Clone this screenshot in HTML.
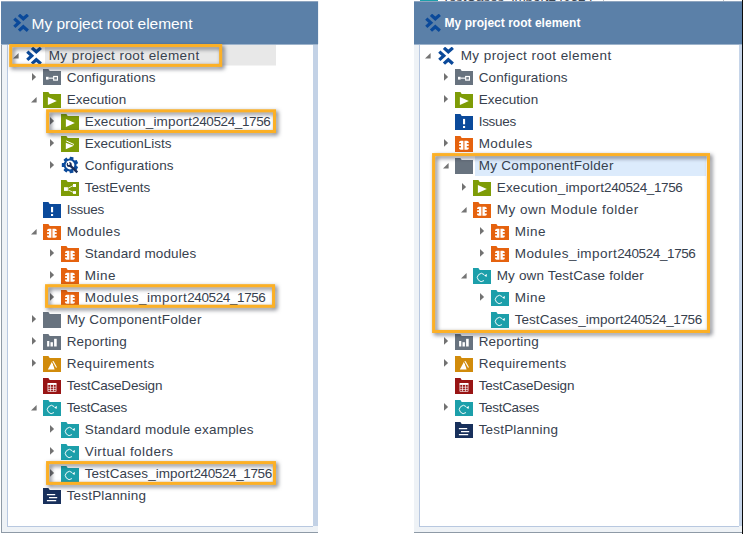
<!DOCTYPE html>
<html><head><meta charset="utf-8"><title>Project tree</title>
<style>
html,body{margin:0;padding:0;background:#fff;}
body{width:743px;height:534px;overflow:hidden;position:relative;font-family:"Liberation Sans",sans-serif;}
.abs{position:absolute}
.row{position:absolute;height:22px;width:300px;}
.row .ic{position:absolute;top:4px;}
.row .ic.root{top:2.6px}
.row .ic.cf{top:3.1px}
.row .ar{position:absolute;}
.tx{position:absolute;top:1px;height:22px;line-height:22px;font-size:13.5px;color:#37414e;white-space:nowrap;}
.hdr{position:absolute;background:#5b80a8;color:#fff;white-space:nowrap;}
.boxes{position:absolute;left:0;top:0;filter:drop-shadow(2.6px 2.6px 1.9px rgba(20,25,40,.62));}
</style></head><body>

<!-- LEFT PANEL -->
<div class="abs" style="left:1px;top:1px;width:318px;height:532px;background:#eef2f6;border-left:1px solid #8e9aa6;border-bottom:1px solid #8e9aa6;box-sizing:border-box"></div>
<div class="abs" style="left:7px;top:44px;width:306px;height:483px;background:#fff;border-left:1px solid #b8c8e0;border-bottom:1px solid #b8c8e0;box-sizing:border-box"></div>
<div class="abs" style="left:313px;top:44px;width:5px;height:482px;background:#c3d2e6"></div>
<div class="abs" style="left:318px;top:44px;width:2px;height:490px;background:#fff"></div>
<div class="hdr" style="left:1px;top:1px;width:317px;height:44px;border-top:1px solid #8fa5bf;border-bottom:1px solid #9db3cb;box-sizing:border-box">
 <svg class="abs" style="left:12.1px;top:12.2px" width="17" height="18" viewBox="0 0 17 18"><g fill="none" stroke="#0a499a" stroke-width="3.25" stroke-linejoin="miter"><path d="M5.95 0.85L10.3 4.8L14.85 0.85"/><path d="M1.3 4.6L5.8 8.75L1.3 12.9"/><path d="M5.95 16.65L10.3 12.7L14.85 16.65"/></g></svg>
 <span class="abs" style="left:30.6px;top:10.5px;font-size:15.5px;line-height:22px;letter-spacing:-0.05px">My project root element</span>
</div>
<div class="abs" style="left:45px;top:45px;width:230.5px;height:20px;background:#e8e8e8;border-bottom:1px solid #f3f3f3"></div>
<div class="row" style="top:44px;left:0px"><svg class="ar" width="6" height="6" viewBox="0 0 6 6" style="left:13.4px;top:8.7px"><path d="M5.6 0V5.5H0Z" fill="#747474"/></svg><svg style="left:26px" class="ic root" width="17" height="18" viewBox="0 0 17 18"><g fill="none" stroke="#0a499a" stroke-width="3.25" stroke-linejoin="miter"><path d="M5.95 0.85L10.3 4.8L14.85 0.85"/><path d="M1.3 4.6L5.8 8.75L1.3 12.9"/><path d="M5.95 16.65L10.3 12.7L14.85 16.65"/></g></svg><span class="tx" style="left:48.7px;letter-spacing:0.432px">My project root element</span></div>
<div class="row" style="top:66px;left:0px"><svg class="ar" width="5" height="8" viewBox="0 0 5 8" style="left:32px;top:7.2px"><path d="M0 0L4.1 3.9L0 7.8Z" fill="#727272"/></svg><svg style="left:43px" class="ic cf" width="18" height="16" viewBox="0 0 18 16"><path d="M0 0H5.4L6.7 2H18V16H0Z" fill="#68737f"/><rect x="3" y="7.8" width="2.6" height="2.8" fill="#fff"/><rect x="5.5" y="8.6" width="5" height="1.1" fill="#fff"/><rect x="10.7" y="7.5" width="3.7" height="3.6" fill="none" stroke="#fff" stroke-width="1.2"/><rect x="12.35" y="7.5" width="0.4" height="3.6" fill="#fff" fill-opacity=".3"/></svg><span class="tx" style="left:66.7px;letter-spacing:0.138px">Configurations</span></div>
<div class="row" style="top:88px;left:0px"><svg class="ar" width="6" height="6" viewBox="0 0 6 6" style="left:31.4px;top:8.7px"><path d="M5.6 0V5.5H0Z" fill="#747474"/></svg><svg style="left:43px" class="ic" width="18" height="16" viewBox="0 0 18 16"><path d="M0 0H5.4L6.7 2H18V16H0Z" fill="#7e9c07"/><path d="M4.9 5V13.1L13.8 9.1Z" fill="#fff"/></svg><span class="tx" style="left:66.7px;letter-spacing:0.023px">Execution</span></div>
<div class="row" style="top:110px;left:0px"><svg class="ar" width="5" height="8" viewBox="0 0 5 8" style="left:50px;top:7.2px"><path d="M0 0L4.1 3.9L0 7.8Z" fill="#727272"/></svg><svg style="left:61px" class="ic" width="18" height="16" viewBox="0 0 18 16"><path d="M0 0H5.4L6.7 2H18V16H0Z" fill="#7e9c07"/><path d="M4.9 5V13.1L13.8 9.1Z" fill="#fff"/></svg><span class="tx" style="left:84.7px;letter-spacing:0.193px">Execution_import<span style="letter-spacing:-0.390px">240524_1756</span></span></div>
<div class="row" style="top:132px;left:0px"><svg class="ar" width="5" height="8" viewBox="0 0 5 8" style="left:50px;top:7.2px"><path d="M0 0L4.1 3.9L0 7.8Z" fill="#727272"/></svg><svg style="left:61px" class="ic" width="18" height="16" viewBox="0 0 18 16"><path d="M0 0H5.4L6.7 2H18V16H0Z" fill="#7e9c07"/><path d="M4.8 6.8V13.2L12.8 9.8Z" fill="#fff"/><path d="M5.2 4.9L13 8.5" stroke="#fff" stroke-width="1" fill="none"/></svg><span class="tx" style="left:84.7px;letter-spacing:-0.018px">ExecutionLists</span></div>
<div class="row" style="top:154px;left:0px"><svg class="ar" width="5" height="8" viewBox="0 0 5 8" style="left:50px;top:7.2px"><path d="M0 0L4.1 3.9L0 7.8Z" fill="#727272"/></svg><svg class="ic" width="18" height="18" viewBox="-9 -9 18 18" style="left:61px;margin-top:-2.2px"><g fill="#0b4a9b"><circle r="6.5"/><rect x="-1.9" y="-8.2" width="3.8" height="3.4" rx="0.5" transform="rotate(13.0)"/><rect x="-1.9" y="-8.2" width="3.8" height="3.4" rx="0.5" transform="rotate(64.4)"/><rect x="-1.9" y="-8.2" width="3.8" height="3.4" rx="0.5" transform="rotate(115.9)"/><rect x="-1.9" y="-8.2" width="3.8" height="3.4" rx="0.5" transform="rotate(167.3)"/><rect x="-1.9" y="-8.2" width="3.8" height="3.4" rx="0.5" transform="rotate(218.7)"/><rect x="-1.9" y="-8.2" width="3.8" height="3.4" rx="0.5" transform="rotate(270.1)"/><rect x="-1.9" y="-8.2" width="3.8" height="3.4" rx="0.5" transform="rotate(321.6)"/></g><circle r="4.4" fill="#fff"/><path d="M0 0.4L7.3 7.4" stroke="#1a2d5a" stroke-width="2.4" stroke-linecap="butt"/><circle cx="-0.8" cy="-0.5" r="2.5" fill="#1a2d5a"/><path d="M-0.9 -0.7L-3.6 -3.2L-0.6 -4.2Z" fill="#fff"/><circle cx="-1.2" cy="-1.1" r="1" fill="#fff"/></svg><span class="tx" style="left:84.7px;letter-spacing:0.138px">Configurations</span></div>
<div class="row" style="top:176px;left:0px"><svg style="left:61px" class="ic" width="18" height="16" viewBox="0 0 18 16"><path d="M0 0H5.4L6.7 2H18V16H0Z" fill="#7e9c07"/><rect x="3" y="7.2" width="3.9" height="3.7" fill="#fff"/><rect x="12" y="4" width="3" height="3" fill="#fff"/><rect x="12" y="11.1" width="3" height="2.8" fill="#fff"/><path d="M6.9 8.4L12.2 5.6M6.9 9.8L12.2 12.4" stroke="#fff" stroke-opacity=".85" stroke-width="0.9" fill="none"/></svg><span class="tx" style="left:84.7px;letter-spacing:-0.043px">TestEvents</span></div>
<div class="row" style="top:198px;left:0px"><svg style="left:43px" class="ic" width="18" height="16" viewBox="0 0 18 16"><path d="M0 0H5.4L6.7 2H18V16H0Z" fill="#0b4a9b"/><rect x="8" y="4.9" width="2.1" height="5.4" fill="#fff"/><rect x="8" y="12" width="2.1" height="2" fill="#fff"/></svg><span class="tx" style="left:66.7px;letter-spacing:-0.289px">Issues</span></div>
<div class="row" style="top:220px;left:0px"><svg class="ar" width="6" height="6" viewBox="0 0 6 6" style="left:31.4px;top:8.7px"><path d="M5.6 0V5.5H0Z" fill="#747474"/></svg><svg style="left:43px" class="ic" width="18" height="16" viewBox="0 0 18 16"><path d="M0 0H5.4L6.7 2H18V16H0Z" fill="#e5620e"/><path d="M8.2 4.8V13.8H5.6L4.1 12.9V11.4H6V10.1H4.1V8.3H6V7H4.1V5.7L5.6 4.8Z" fill="#fff"/><path d="M9.5 4.8V13.8H12.2L13.7 12.9V11.4H11.8V10.1H13.7V8.3H11.8V7H13.7V5.7L12.2 4.8Z" fill="#fff"/><rect x="8.2" y="4.8" width="1.3" height="9" fill="#fff" fill-opacity=".3"/></svg><span class="tx" style="left:66.7px;letter-spacing:0.424px">Modules</span></div>
<div class="row" style="top:242px;left:0px"><svg class="ar" width="5" height="8" viewBox="0 0 5 8" style="left:50px;top:7.2px"><path d="M0 0L4.1 3.9L0 7.8Z" fill="#727272"/></svg><svg style="left:61px" class="ic" width="18" height="16" viewBox="0 0 18 16"><path d="M0 0H5.4L6.7 2H18V16H0Z" fill="#e5620e"/><path d="M8.2 4.8V13.8H5.6L4.1 12.9V11.4H6V10.1H4.1V8.3H6V7H4.1V5.7L5.6 4.8Z" fill="#fff"/><path d="M9.5 4.8V13.8H12.2L13.7 12.9V11.4H11.8V10.1H13.7V8.3H11.8V7H13.7V5.7L12.2 4.8Z" fill="#fff"/><rect x="8.2" y="4.8" width="1.3" height="9" fill="#fff" fill-opacity=".3"/></svg><span class="tx" style="left:84.7px;letter-spacing:0.133px">Standard modules</span></div>
<div class="row" style="top:264px;left:0px"><svg class="ar" width="5" height="8" viewBox="0 0 5 8" style="left:50px;top:7.2px"><path d="M0 0L4.1 3.9L0 7.8Z" fill="#727272"/></svg><svg style="left:61px" class="ic" width="18" height="16" viewBox="0 0 18 16"><path d="M0 0H5.4L6.7 2H18V16H0Z" fill="#e5620e"/><path d="M8.2 4.8V13.8H5.6L4.1 12.9V11.4H6V10.1H4.1V8.3H6V7H4.1V5.7L5.6 4.8Z" fill="#fff"/><path d="M9.5 4.8V13.8H12.2L13.7 12.9V11.4H11.8V10.1H13.7V8.3H11.8V7H13.7V5.7L12.2 4.8Z" fill="#fff"/><rect x="8.2" y="4.8" width="1.3" height="9" fill="#fff" fill-opacity=".3"/></svg><span class="tx" style="left:84.7px;letter-spacing:0.509px">Mine</span></div>
<div class="row" style="top:286px;left:0px"><svg class="ar" width="5" height="8" viewBox="0 0 5 8" style="left:50px;top:7.2px"><path d="M0 0L4.1 3.9L0 7.8Z" fill="#727272"/></svg><svg style="left:61px" class="ic" width="18" height="16" viewBox="0 0 18 16"><path d="M0 0H5.4L6.7 2H18V16H0Z" fill="#e5620e"/><path d="M8.2 4.8V13.8H5.6L4.1 12.9V11.4H6V10.1H4.1V8.3H6V7H4.1V5.7L5.6 4.8Z" fill="#fff"/><path d="M9.5 4.8V13.8H12.2L13.7 12.9V11.4H11.8V10.1H13.7V8.3H11.8V7H13.7V5.7L12.2 4.8Z" fill="#fff"/><rect x="8.2" y="4.8" width="1.3" height="9" fill="#fff" fill-opacity=".3"/></svg><span class="tx" style="left:84.7px;letter-spacing:0.461px">Modules_import<span style="letter-spacing:-0.390px">240524_1756</span></span></div>
<div class="row" style="top:308px;left:0px"><svg class="ar" width="5" height="8" viewBox="0 0 5 8" style="left:32px;top:7.2px"><path d="M0 0L4.1 3.9L0 7.8Z" fill="#727272"/></svg><svg style="left:43px" class="ic" width="18" height="16" viewBox="0 0 18 16"><path d="M0 0H5.4L6.7 2H18V16H0Z" fill="#68737f"/></svg><span class="tx" style="left:66.7px;letter-spacing:0.288px">My ComponentFolder</span></div>
<div class="row" style="top:330px;left:0px"><svg class="ar" width="5" height="8" viewBox="0 0 5 8" style="left:32px;top:7.2px"><path d="M0 0L4.1 3.9L0 7.8Z" fill="#727272"/></svg><svg style="left:43px" class="ic" width="18" height="16" viewBox="0 0 18 16"><path d="M0 0H5.4L6.7 2H18V16H0Z" fill="#68737f"/><rect x="4.1" y="7" width="2.2" height="5.5" fill="#fff"/><rect x="7.5" y="8.2" width="2.4" height="4.3" fill="#fff"/><rect x="11.1" y="4.8" width="2.6" height="7.7" fill="#fff"/></svg><span class="tx" style="left:66.7px;letter-spacing:0.184px">Reporting</span></div>
<div class="row" style="top:352px;left:0px"><svg class="ar" width="5" height="8" viewBox="0 0 5 8" style="left:32px;top:7.2px"><path d="M0 0L4.1 3.9L0 7.8Z" fill="#727272"/></svg><svg style="left:43px" class="ic" width="18" height="16" viewBox="0 0 18 16"><path d="M0 0H5.4L6.7 2H18V16H0Z" fill="#d18b0b"/><path d="M4.8 13.4L9.3 5.3L11.6 13.4Z" fill="#fff"/><path d="M9.2 5.6L12.4 12.6" stroke="#d18b0b" stroke-width="1"/><path d="M10 5.2L13.5 11.6" stroke="#fff" stroke-width="1.1"/></svg><span class="tx" style="left:66.7px;letter-spacing:0.313px">Requirements</span></div>
<div class="row" style="top:374px;left:0px"><svg style="left:43px" class="ic" width="18" height="16" viewBox="0 0 18 16"><path d="M0 0H5.4L6.7 2H18V16H0Z" fill="#981414"/><rect x="4.5" y="5" width="9" height="1.9" fill="#fff"/><path d="M4.9 6.5V13.4H13.1V6.5M7.5 6.8V13.4M10.5 6.8V13.4M4.9 9.2H13.1M4.9 11.4H13.1" stroke="#fff" stroke-opacity=".85" stroke-width="0.8" fill="none"/></svg><span class="tx" style="left:66.7px;letter-spacing:-0.200px">TestCaseDesign</span></div>
<div class="row" style="top:396px;left:0px"><svg class="ar" width="6" height="6" viewBox="0 0 6 6" style="left:31.4px;top:8.7px"><path d="M5.6 0V5.5H0Z" fill="#747474"/></svg><svg style="left:43px" class="ic" width="18" height="16" viewBox="0 0 18 16"><path d="M0 0H5.4L6.7 2H18V16H0Z" fill="#1c9faa"/><path d="M11.23 6.67A4 4 0 1 0 10.97 12.56" stroke="#fff" stroke-opacity=".92" stroke-width="1" fill="none"/><path d="M11.1 7.4L14 5.9L13.5 9Z" fill="#fff"/></svg><span class="tx" style="left:66.7px;letter-spacing:-0.315px">TestCases</span></div>
<div class="row" style="top:418px;left:0px"><svg class="ar" width="5" height="8" viewBox="0 0 5 8" style="left:50px;top:7.2px"><path d="M0 0L4.1 3.9L0 7.8Z" fill="#727272"/></svg><svg style="left:61px" class="ic" width="18" height="16" viewBox="0 0 18 16"><path d="M0 0H5.4L6.7 2H18V16H0Z" fill="#1c9faa"/><path d="M11.23 6.67A4 4 0 1 0 10.97 12.56" stroke="#fff" stroke-opacity=".92" stroke-width="1" fill="none"/><path d="M11.1 7.4L14 5.9L13.5 9Z" fill="#fff"/></svg><span class="tx" style="left:84.7px;letter-spacing:0.193px">Standard module examples</span></div>
<div class="row" style="top:440px;left:0px"><svg class="ar" width="5" height="8" viewBox="0 0 5 8" style="left:50px;top:7.2px"><path d="M0 0L4.1 3.9L0 7.8Z" fill="#727272"/></svg><svg style="left:61px" class="ic" width="18" height="16" viewBox="0 0 18 16"><path d="M0 0H5.4L6.7 2H18V16H0Z" fill="#1c9faa"/><path d="M11.23 6.67A4 4 0 1 0 10.97 12.56" stroke="#fff" stroke-opacity=".92" stroke-width="1" fill="none"/><path d="M11.1 7.4L14 5.9L13.5 9Z" fill="#fff"/></svg><span class="tx" style="left:84.7px;letter-spacing:0.434px">Virtual folders</span></div>
<div class="row" style="top:462px;left:0px"><svg class="ar" width="5" height="8" viewBox="0 0 5 8" style="left:50px;top:7.2px"><path d="M0 0L4.1 3.9L0 7.8Z" fill="#727272"/></svg><svg style="left:61px" class="ic" width="18" height="16" viewBox="0 0 18 16"><path d="M0 0H5.4L6.7 2H18V16H0Z" fill="#1c9faa"/><path d="M11.23 6.67A4 4 0 1 0 10.97 12.56" stroke="#fff" stroke-opacity=".92" stroke-width="1" fill="none"/><path d="M11.1 7.4L14 5.9L13.5 9Z" fill="#fff"/></svg><span class="tx" style="left:84.7px;letter-spacing:0.047px">TestCases_import<span style="letter-spacing:-0.390px">240524_1756</span></span></div>
<div class="row" style="top:484px;left:0px"><svg style="left:43px" class="ic" width="18" height="16" viewBox="0 0 18 16"><path d="M0 0H5.4L6.7 2H18V16H0Z" fill="#18305c"/><path d="M3.9 6.55H12.2M6 9.55H14.2M3.9 12.6H13.2" stroke="#fff" stroke-width="1.2" fill="none"/></svg><span class="tx" style="left:66.7px;letter-spacing:0.174px">TestPlanning</span></div>

<!-- RIGHT PANEL -->
<div class="abs" style="left:414px;top:1px;width:329px;height:532px;background:#eef2f6;border-bottom:1px solid #8e9aa6;box-sizing:border-box"></div>
<div class="abs" style="left:419px;top:44px;width:320px;height:483px;background:#fff;border-left:1px solid #b8c8e0;border-bottom:1px solid #b8c8e0;box-sizing:border-box"></div>
<div class="abs" style="left:739px;top:44px;width:3px;height:482px;background:#c6d5e9"></div>
<div class="abs" style="left:414px;top:0;width:329px;height:1px;background:#fff;overflow:hidden">
  <div class="abs" style="left:6px;top:-14px;width:18px;height:16px;background:#1c9faa"></div>
  <span class="abs" style="left:28px;top:-10.3px;font-size:13.5px;line-height:14px;color:#3c4653;white-space:nowrap;letter-spacing:-0.1px">TestCases_import240524</span>
  <div class="abs" style="left:189px;top:0;width:1px;height:2px;background:#b9bec5"></div>
  <div class="abs" style="left:309px;top:0;width:1px;height:2px;background:#b9bec5"></div>
</div>
<div class="hdr" style="left:414px;top:1px;width:329px;height:44px;border-top:1px solid #8fa5bf;border-bottom:1px solid #9db3cb;box-sizing:border-box">
 <svg class="abs" style="left:11.2px;top:11.9px" width="17" height="18" viewBox="0 0 17 18"><g fill="none" stroke="#0a499a" stroke-width="3.25" stroke-linejoin="miter"><path d="M5.95 0.85L10.3 4.8L14.85 0.85"/><path d="M1.3 4.6L5.8 8.75L1.3 12.9"/><path d="M5.95 16.65L10.3 12.7L14.85 16.65"/></g></svg>
 <span class="abs" style="left:30.6px;top:9.6px;font-size:12px;font-weight:bold;line-height:22px;letter-spacing:0.02px">My project root element</span>
</div>
<div class="abs" style="left:475px;top:155px;width:231px;height:20.6px;background:#dcebfc"></div>
<div class="row" style="top:44px;left:412px"><svg class="ar" width="6" height="6" viewBox="0 0 6 6" style="left:13.4px;top:8.7px"><path d="M5.6 0V5.5H0Z" fill="#747474"/></svg><svg style="left:26px" class="ic root" width="17" height="18" viewBox="0 0 17 18"><g fill="none" stroke="#0a499a" stroke-width="3.25" stroke-linejoin="miter"><path d="M5.95 0.85L10.3 4.8L14.85 0.85"/><path d="M1.3 4.6L5.8 8.75L1.3 12.9"/><path d="M5.95 16.65L10.3 12.7L14.85 16.65"/></g></svg><span class="tx" style="left:48.7px;letter-spacing:0.432px">My project root element</span></div>
<div class="row" style="top:66px;left:412px"><svg class="ar" width="5" height="8" viewBox="0 0 5 8" style="left:32px;top:7.2px"><path d="M0 0L4.1 3.9L0 7.8Z" fill="#727272"/></svg><svg style="left:43px" class="ic cf" width="18" height="16" viewBox="0 0 18 16"><path d="M0 0H5.4L6.7 2H18V16H0Z" fill="#68737f"/><rect x="3" y="7.8" width="2.6" height="2.8" fill="#fff"/><rect x="5.5" y="8.6" width="5" height="1.1" fill="#fff"/><rect x="10.7" y="7.5" width="3.7" height="3.6" fill="none" stroke="#fff" stroke-width="1.2"/><rect x="12.35" y="7.5" width="0.4" height="3.6" fill="#fff" fill-opacity=".3"/></svg><span class="tx" style="left:66.7px;letter-spacing:0.138px">Configurations</span></div>
<div class="row" style="top:88px;left:412px"><svg class="ar" width="5" height="8" viewBox="0 0 5 8" style="left:32px;top:7.2px"><path d="M0 0L4.1 3.9L0 7.8Z" fill="#727272"/></svg><svg style="left:43px" class="ic" width="18" height="16" viewBox="0 0 18 16"><path d="M0 0H5.4L6.7 2H18V16H0Z" fill="#7e9c07"/><path d="M4.9 5V13.1L13.8 9.1Z" fill="#fff"/></svg><span class="tx" style="left:66.7px;letter-spacing:0.023px">Execution</span></div>
<div class="row" style="top:110px;left:412px"><svg style="left:43px" class="ic" width="18" height="16" viewBox="0 0 18 16"><path d="M0 0H5.4L6.7 2H18V16H0Z" fill="#0b4a9b"/><rect x="8" y="4.9" width="2.1" height="5.4" fill="#fff"/><rect x="8" y="12" width="2.1" height="2" fill="#fff"/></svg><span class="tx" style="left:66.7px;letter-spacing:-0.289px">Issues</span></div>
<div class="row" style="top:132px;left:412px"><svg class="ar" width="5" height="8" viewBox="0 0 5 8" style="left:32px;top:7.2px"><path d="M0 0L4.1 3.9L0 7.8Z" fill="#727272"/></svg><svg style="left:43px" class="ic" width="18" height="16" viewBox="0 0 18 16"><path d="M0 0H5.4L6.7 2H18V16H0Z" fill="#e5620e"/><path d="M8.2 4.8V13.8H5.6L4.1 12.9V11.4H6V10.1H4.1V8.3H6V7H4.1V5.7L5.6 4.8Z" fill="#fff"/><path d="M9.5 4.8V13.8H12.2L13.7 12.9V11.4H11.8V10.1H13.7V8.3H11.8V7H13.7V5.7L12.2 4.8Z" fill="#fff"/><rect x="8.2" y="4.8" width="1.3" height="9" fill="#fff" fill-opacity=".3"/></svg><span class="tx" style="left:66.7px;letter-spacing:0.424px">Modules</span></div>
<div class="row" style="top:154px;left:412px"><svg class="ar" width="6" height="6" viewBox="0 0 6 6" style="left:31.4px;top:8.7px"><path d="M5.6 0V5.5H0Z" fill="#747474"/></svg><svg style="left:43px" class="ic" width="18" height="16" viewBox="0 0 18 16"><path d="M0 0H5.4L6.7 2H18V16H0Z" fill="#68737f"/></svg><span class="tx" style="left:66.7px;letter-spacing:0.288px">My ComponentFolder</span></div>
<div class="row" style="top:176px;left:412px"><svg class="ar" width="5" height="8" viewBox="0 0 5 8" style="left:50px;top:7.2px"><path d="M0 0L4.1 3.9L0 7.8Z" fill="#727272"/></svg><svg style="left:61px" class="ic" width="18" height="16" viewBox="0 0 18 16"><path d="M0 0H5.4L6.7 2H18V16H0Z" fill="#7e9c07"/><path d="M4.9 5V13.1L13.8 9.1Z" fill="#fff"/></svg><span class="tx" style="left:84.7px;letter-spacing:0.193px">Execution_import<span style="letter-spacing:-0.390px">240524_1756</span></span></div>
<div class="row" style="top:198px;left:412px"><svg class="ar" width="6" height="6" viewBox="0 0 6 6" style="left:49.4px;top:8.7px"><path d="M5.6 0V5.5H0Z" fill="#747474"/></svg><svg style="left:61px" class="ic" width="18" height="16" viewBox="0 0 18 16"><path d="M0 0H5.4L6.7 2H18V16H0Z" fill="#e5620e"/><path d="M8.2 4.8V13.8H5.6L4.1 12.9V11.4H6V10.1H4.1V8.3H6V7H4.1V5.7L5.6 4.8Z" fill="#fff"/><path d="M9.5 4.8V13.8H12.2L13.7 12.9V11.4H11.8V10.1H13.7V8.3H11.8V7H13.7V5.7L12.2 4.8Z" fill="#fff"/><rect x="8.2" y="4.8" width="1.3" height="9" fill="#fff" fill-opacity=".3"/></svg><span class="tx" style="left:84.7px;letter-spacing:0.497px">My own Module folder</span></div>
<div class="row" style="top:220px;left:412px"><svg class="ar" width="5" height="8" viewBox="0 0 5 8" style="left:68px;top:7.2px"><path d="M0 0L4.1 3.9L0 7.8Z" fill="#727272"/></svg><svg style="left:79px" class="ic" width="18" height="16" viewBox="0 0 18 16"><path d="M0 0H5.4L6.7 2H18V16H0Z" fill="#e5620e"/><path d="M8.2 4.8V13.8H5.6L4.1 12.9V11.4H6V10.1H4.1V8.3H6V7H4.1V5.7L5.6 4.8Z" fill="#fff"/><path d="M9.5 4.8V13.8H12.2L13.7 12.9V11.4H11.8V10.1H13.7V8.3H11.8V7H13.7V5.7L12.2 4.8Z" fill="#fff"/><rect x="8.2" y="4.8" width="1.3" height="9" fill="#fff" fill-opacity=".3"/></svg><span class="tx" style="left:102.7px;letter-spacing:0.509px">Mine</span></div>
<div class="row" style="top:242px;left:412px"><svg class="ar" width="5" height="8" viewBox="0 0 5 8" style="left:68px;top:7.2px"><path d="M0 0L4.1 3.9L0 7.8Z" fill="#727272"/></svg><svg style="left:79px" class="ic" width="18" height="16" viewBox="0 0 18 16"><path d="M0 0H5.4L6.7 2H18V16H0Z" fill="#e5620e"/><path d="M8.2 4.8V13.8H5.6L4.1 12.9V11.4H6V10.1H4.1V8.3H6V7H4.1V5.7L5.6 4.8Z" fill="#fff"/><path d="M9.5 4.8V13.8H12.2L13.7 12.9V11.4H11.8V10.1H13.7V8.3H11.8V7H13.7V5.7L12.2 4.8Z" fill="#fff"/><rect x="8.2" y="4.8" width="1.3" height="9" fill="#fff" fill-opacity=".3"/></svg><span class="tx" style="left:102.7px;letter-spacing:0.461px">Modules_import<span style="letter-spacing:-0.390px">240524_1756</span></span></div>
<div class="row" style="top:264px;left:412px"><svg class="ar" width="6" height="6" viewBox="0 0 6 6" style="left:49.4px;top:8.7px"><path d="M5.6 0V5.5H0Z" fill="#747474"/></svg><svg style="left:61px" class="ic" width="18" height="16" viewBox="0 0 18 16"><path d="M0 0H5.4L6.7 2H18V16H0Z" fill="#1c9faa"/><path d="M11.23 6.67A4 4 0 1 0 10.97 12.56" stroke="#fff" stroke-opacity=".92" stroke-width="1" fill="none"/><path d="M11.1 7.4L14 5.9L13.5 9Z" fill="#fff"/></svg><span class="tx" style="left:84.7px;letter-spacing:0.153px">My own TestCase folder</span></div>
<div class="row" style="top:286px;left:412px"><svg class="ar" width="5" height="8" viewBox="0 0 5 8" style="left:68px;top:7.2px"><path d="M0 0L4.1 3.9L0 7.8Z" fill="#727272"/></svg><svg style="left:79px" class="ic" width="18" height="16" viewBox="0 0 18 16"><path d="M0 0H5.4L6.7 2H18V16H0Z" fill="#1c9faa"/><path d="M11.23 6.67A4 4 0 1 0 10.97 12.56" stroke="#fff" stroke-opacity=".92" stroke-width="1" fill="none"/><path d="M11.1 7.4L14 5.9L13.5 9Z" fill="#fff"/></svg><span class="tx" style="left:102.7px;letter-spacing:0.509px">Mine</span></div>
<div class="row" style="top:308px;left:412px"><svg style="left:79px" class="ic" width="18" height="16" viewBox="0 0 18 16"><path d="M0 0H5.4L6.7 2H18V16H0Z" fill="#1c9faa"/><path d="M11.23 6.67A4 4 0 1 0 10.97 12.56" stroke="#fff" stroke-opacity=".92" stroke-width="1" fill="none"/><path d="M11.1 7.4L14 5.9L13.5 9Z" fill="#fff"/></svg><span class="tx" style="left:102.7px;letter-spacing:0.047px">TestCases_import<span style="letter-spacing:-0.390px">240524_1756</span></span></div>
<div class="row" style="top:330px;left:412px"><svg class="ar" width="5" height="8" viewBox="0 0 5 8" style="left:32px;top:7.2px"><path d="M0 0L4.1 3.9L0 7.8Z" fill="#727272"/></svg><svg style="left:43px" class="ic" width="18" height="16" viewBox="0 0 18 16"><path d="M0 0H5.4L6.7 2H18V16H0Z" fill="#68737f"/><rect x="4.1" y="7" width="2.2" height="5.5" fill="#fff"/><rect x="7.5" y="8.2" width="2.4" height="4.3" fill="#fff"/><rect x="11.1" y="4.8" width="2.6" height="7.7" fill="#fff"/></svg><span class="tx" style="left:66.7px;letter-spacing:0.184px">Reporting</span></div>
<div class="row" style="top:352px;left:412px"><svg class="ar" width="5" height="8" viewBox="0 0 5 8" style="left:32px;top:7.2px"><path d="M0 0L4.1 3.9L0 7.8Z" fill="#727272"/></svg><svg style="left:43px" class="ic" width="18" height="16" viewBox="0 0 18 16"><path d="M0 0H5.4L6.7 2H18V16H0Z" fill="#d18b0b"/><path d="M4.8 13.4L9.3 5.3L11.6 13.4Z" fill="#fff"/><path d="M9.2 5.6L12.4 12.6" stroke="#d18b0b" stroke-width="1"/><path d="M10 5.2L13.5 11.6" stroke="#fff" stroke-width="1.1"/></svg><span class="tx" style="left:66.7px;letter-spacing:0.313px">Requirements</span></div>
<div class="row" style="top:374px;left:412px"><svg style="left:43px" class="ic" width="18" height="16" viewBox="0 0 18 16"><path d="M0 0H5.4L6.7 2H18V16H0Z" fill="#981414"/><rect x="4.5" y="5" width="9" height="1.9" fill="#fff"/><path d="M4.9 6.5V13.4H13.1V6.5M7.5 6.8V13.4M10.5 6.8V13.4M4.9 9.2H13.1M4.9 11.4H13.1" stroke="#fff" stroke-opacity=".85" stroke-width="0.8" fill="none"/></svg><span class="tx" style="left:66.7px;letter-spacing:-0.200px">TestCaseDesign</span></div>
<div class="row" style="top:396px;left:412px"><svg class="ar" width="5" height="8" viewBox="0 0 5 8" style="left:32px;top:7.2px"><path d="M0 0L4.1 3.9L0 7.8Z" fill="#727272"/></svg><svg style="left:43px" class="ic" width="18" height="16" viewBox="0 0 18 16"><path d="M0 0H5.4L6.7 2H18V16H0Z" fill="#1c9faa"/><path d="M11.23 6.67A4 4 0 1 0 10.97 12.56" stroke="#fff" stroke-opacity=".92" stroke-width="1" fill="none"/><path d="M11.1 7.4L14 5.9L13.5 9Z" fill="#fff"/></svg><span class="tx" style="left:66.7px;letter-spacing:-0.315px">TestCases</span></div>
<div class="row" style="top:418px;left:412px"><svg style="left:43px" class="ic" width="18" height="16" viewBox="0 0 18 16"><path d="M0 0H5.4L6.7 2H18V16H0Z" fill="#18305c"/><path d="M3.9 6.55H12.2M6 9.55H14.2M3.9 12.6H13.2" stroke="#fff" stroke-width="1.2" fill="none"/></svg><span class="tx" style="left:66.7px;letter-spacing:0.174px">TestPlanning</span></div>
<div class="abs" style="left:742px;top:0;width:1px;height:534px;background:#0a0a0a"></div>

<!-- annotation boxes -->
<svg class="boxes" width="743" height="534" viewBox="0 0 743 534"><g fill="none" stroke="#fcb026" stroke-width="3.05"><rect x="10.72" y="45.57" width="209.95" height="19.80"/><rect x="47.62" y="110.83" width="226.90" height="20.69"/><rect x="46.59" y="285.72" width="226.97" height="20.55"/><rect x="47.59" y="462.60" width="226.84" height="20.77"/><rect x="433.61" y="154.61" width="274.89" height="176.87"/></g></svg>
</body></html>
